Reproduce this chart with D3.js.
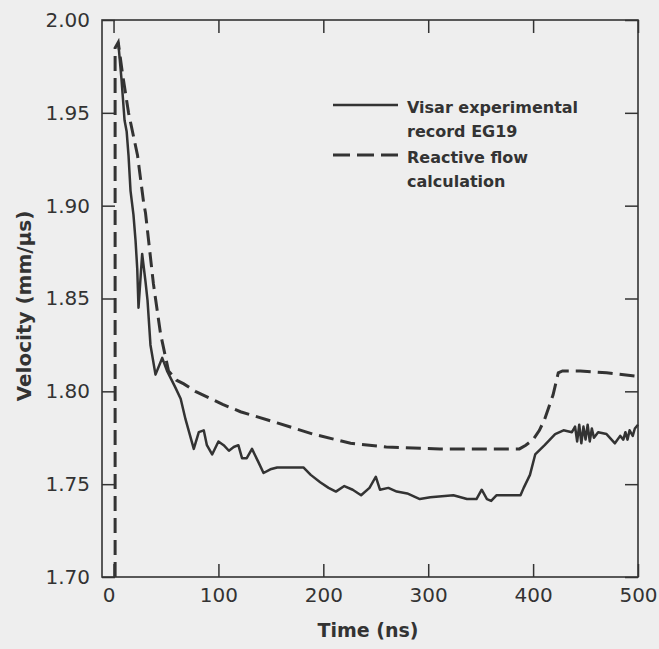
<!DOCTYPE html>
<html>
<head>
<meta charset="utf-8">
<script src="https://cdn.jsdelivr.net/npm/d3@7"></script>
<style>
  body { margin: 0; background: #eeeeee; }
  svg { display: block; }
</style>
</head>
<body>
<div id="chart"></div>
<script>
// experimental record (solid)
var visarTime = [4.5, 7.6, 10.5, 12.5, 14.3, 16.2, 19, 21, 22.6, 23.8, 27.3, 30.5, 32.4, 35.2, 40, 46.4, 51, 59, 64, 68.6,
  76.5, 81.3, 86, 89, 94, 100, 105, 110, 114.6, 119, 122.5, 127, 132, 138, 143, 149.5, 156, 181, 188, 197,
  205, 212, 220, 228, 236, 244, 250, 254, 262, 270, 280, 292, 302, 324, 337, 346, 351, 356, 360, 365,
  388, 391, 397, 402, 411, 421, 429, 437, 440, 442, 444, 446, 448, 450, 452, 454, 456, 458, 462, 470,
  478, 483, 486, 488, 490, 492, 495, 497, 500];
var visarVel = [1.988, 1.968, 1.946, 1.940, 1.927, 1.908, 1.895, 1.881, 1.866, 1.845, 1.874, 1.859, 1.849, 1.825, 1.809, 1.818, 1.811, 1.802, 1.796, 1.785,
  1.769, 1.778, 1.779, 1.771, 1.766, 1.773, 1.771, 1.768, 1.770, 1.771, 1.764, 1.764, 1.769, 1.762, 1.756, 1.758, 1.759, 1.759, 1.755, 1.751,
  1.748, 1.746, 1.749, 1.747, 1.744, 1.748, 1.754, 1.747, 1.748, 1.746, 1.745, 1.742, 1.743, 1.744, 1.742, 1.742, 1.747, 1.742, 1.741, 1.744,
  1.744, 1.748, 1.755, 1.766, 1.771, 1.777, 1.779, 1.778, 1.781, 1.773, 1.782, 1.772, 1.781, 1.774, 1.782, 1.773, 1.780, 1.775, 1.778, 1.777,
  1.772, 1.776, 1.774, 1.778, 1.774, 1.779, 1.776, 1.780, 1.782];

// reactive flow calculation (dashed)
var calcTime = [1.5, 1.5, 4.5, 8.3, 14.3, 22.9, 28.6, 30.5, 38, 44.8, 52.4, 60, 67, 78, 93, 104, 121, 156, 190, 226,
  260, 311, 387, 393, 400, 406, 411, 419, 424, 428, 445, 470, 500];
var calcVel = [1.70, 1.985, 1.988, 1.972, 1.950, 1.927, 1.902, 1.896, 1.858, 1.831, 1.811, 1.806, 1.804, 1.800, 1.796, 1.793, 1.789, 1.783, 1.777, 1.772,
  1.770, 1.769, 1.769, 1.771, 1.774, 1.779, 1.785, 1.798, 1.810, 1.811, 1.811, 1.810, 1.808];

var xTicks = [0, 100, 200, 300, 400, 500];
var yTicks = [1.70, 1.75, 1.80, 1.85, 1.90, 1.95, 2.00];
var legendLabels = [["Visar experimental", "record EG19"], ["Reactive flow", "calculation"]];

var width = 659, height = 649;
var plotLeft = 102, plotRight = 638, plotTop = 20, plotBottom = 577;
var ink = "#333";
var font = "'DejaVu Sans', sans-serif";

var x = d3.scaleLinear().domain([-11, 500]).range([plotLeft, plotRight]);
var y = d3.scaleLinear().domain([1.70, 2.00]).range([plotBottom, plotTop]);

var svg = d3.select("#chart").append("svg")
  .attr("width", width)
  .attr("height", height);

svg.append("rect").attr("width", width).attr("height", height).attr("fill", "#eeeeee");

// axes, ticks pointing inward on all four sides
var bottomAxis = svg.append("g")
  .attr("transform", "translate(0," + plotBottom + ")")
  .call(d3.axisBottom(x).tickValues(xTicks).tickSizeInner(-13).tickSizeOuter(0).tickPadding(11));
var topAxis = svg.append("g")
  .attr("transform", "translate(0," + plotTop + ")")
  .call(d3.axisTop(x).tickValues(xTicks).tickSizeInner(-13).tickSizeOuter(0).tickFormat(""));
var leftAxis = svg.append("g")
  .attr("transform", "translate(" + plotLeft + ",0)")
  .call(d3.axisLeft(y).tickValues(yTicks).tickSizeInner(-13).tickSizeOuter(0).tickPadding(12).tickFormat(d3.format(".2f")));
var rightAxis = svg.append("g")
  .attr("transform", "translate(" + plotRight + ",0)")
  .call(d3.axisRight(y).tickValues(yTicks).tickSizeInner(-13).tickSizeOuter(0).tickFormat(""));

[bottomAxis, topAxis, leftAxis, rightAxis].forEach(function(g) {
  g.attr("font-family", null).attr("font-size", null);
  g.select(".domain").remove();
  g.selectAll("line").attr("stroke", ink).attr("stroke-width", 1.5);
  g.selectAll("text").attr("fill", "#333").style("font-family", font).style("font-size", "20px");
});
// the "0" label sits a little left of its tick in the original
bottomAxis.selectAll("text").filter(function(d) { return d === 0; }).attr("dx", -5);

svg.append("rect")
  .attr("x", plotLeft).attr("y", plotTop)
  .attr("width", plotRight - plotLeft).attr("height", plotBottom - plotTop)
  .attr("fill", "none").attr("stroke", ink).attr("stroke-width", 1.6);

var line = d3.line()
  .x(function(d) { return x(d[0]); })
  .y(function(d) { return y(d[1]); });

svg.append("path")
  .datum(calcTime.map(function(t, i) { return [t, calcVel[i]]; }))
  .attr("d", line)
  .attr("fill", "none")
  .attr("stroke", ink)
  .attr("stroke-width", 3)
  .attr("stroke-dasharray", "15,7");

svg.append("path")
  .datum(visarTime.map(function(t, i) { return [t, visarVel[i]]; }))
  .attr("d", line)
  .attr("fill", "none")
  .attr("stroke", ink)
  .attr("stroke-width", 2.5)
  .attr("stroke-linejoin", "round");

// axis titles
svg.append("text")
  .attr("x", 368).attr("y", 637)
  .attr("text-anchor", "middle")
  .style("font-family", font).style("font-size", "19px").style("font-weight", "bold")
  .attr("fill", "#333")
  .text("Time (ns)");

svg.append("text")
  .attr("transform", "translate(31,306) rotate(-90)")
  .attr("text-anchor", "middle")
  .style("font-family", font).style("font-size", "20px").style("font-weight", "bold")
  .attr("fill", "#333")
  .text("Velocity (mm/\u00b5s)");

// legend
var legend = svg.append("g");
legendLabels.forEach(function(lines, i) {
  var ly = 105 + i * 50;
  legend.append("line")
    .attr("x1", 333).attr("x2", 398)
    .attr("y1", ly).attr("y2", ly)
    .attr("stroke", ink)
    .attr("stroke-width", i == 0 ? 2.5 : 3)
    .attr("stroke-dasharray", i == 0 ? null : "17,7");
  lines.forEach(function(s, j) {
    legend.append("text")
      .attr("x", 407).attr("y", ly + 8 + j * 24)
      .style("font-family", font).style("font-size", "16px").style("font-weight", "bold")
      .attr("fill", "#333")
      .text(s);
  });
});
</script>
</body>
</html>
